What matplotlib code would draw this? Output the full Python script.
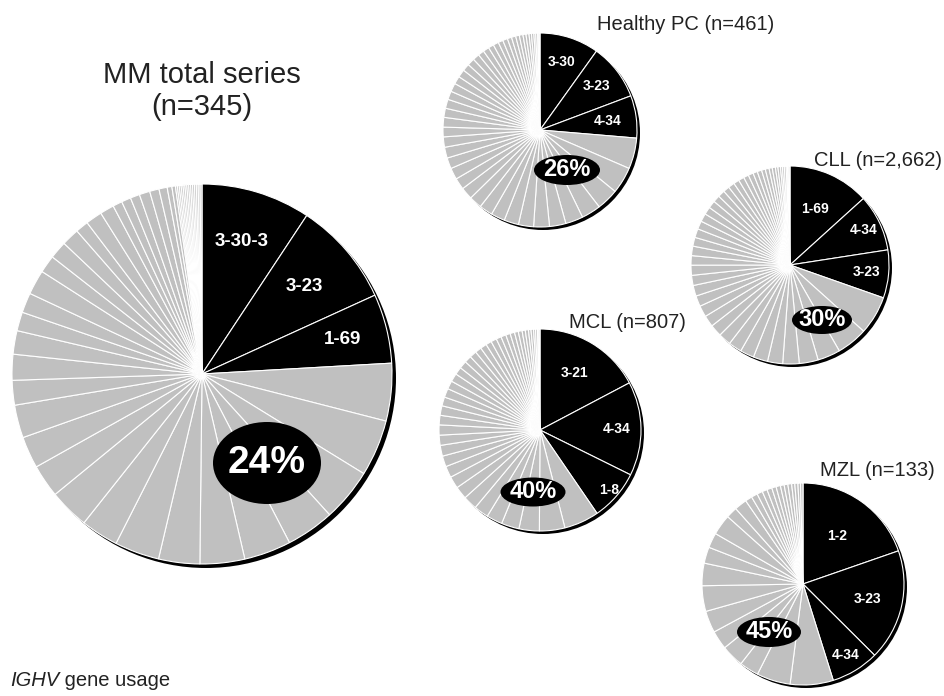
import matplotlib
matplotlib.use("Agg")
from matplotlib import pyplot as plt
from matplotlib.patches import Ellipse, Circle
import numpy as np

W, H = 944, 696

# top 3 IGHV genes (black) + all other genes (grey), % of cases
mmGenes = ["3-30-3", "3-23", "1-69"]
mmTop = [9.3, 8.9, 5.9]
mmRest = [4.9, 4.8, 4.5, 4.1, 4.0, 3.8, 3.5, 3.8, 3.2, 3.4, 2.8, 2.7, 2.8, 2.1, 2.2,
          2.0, 1.6, 1.7, 2.1, 1.5, 1.5, 1.5, 1.1, 1.4, 1.2, 0.8, 0.8, 0.8, 0.9, 0.8,
          0.7, 0.4, 0.3, 0.16, 0.16, 0.16, 0.16, 0.16, 0.16, 0.16, 0.16, 0.16, 0.16,
          0.16, 0.16, 0.16, 0.16]

hpcGenes = ["3-30", "3-23", "4-34"]
hpcTop = [9.8, 9.3, 7.0]
hpcRest = [5.1, 4.4, 3.6, 3.2, 2.9, 2.7, 2.6, 2.5, 2.4, 2.3, 2.2, 2.1, 2.0, 1.9, 1.9,
           1.8, 1.8, 1.7, 1.6, 1.6, 1.5, 1.5, 1.4, 1.4, 1.3, 1.3, 1.2, 1.2, 1.1, 1.0,
           1.0, 0.9, 0.9, 0.8, 0.8, 0.7, 0.7, 0.6, 0.6, 0.5, 0.5, 0.4, 0.4, 0.3, 0.3,
           0.2, 0.2]

cllGenes = ["1-69", "4-34", "3-23"]
cllTop = [12.9, 9.0, 7.6]
cllRest = [6.1, 4.9, 3.6, 3.0, 2.6, 2.4, 2.3, 2.2, 2.1, 2.0, 1.9, 1.8, 1.8, 1.7, 1.7,
           1.6, 1.6, 1.5, 1.5, 1.4, 1.4, 1.3, 1.3, 1.2, 1.2, 1.1, 1.1, 1.0, 1.0, 0.9,
           0.9, 0.8, 0.8, 0.7, 0.7, 0.6, 0.6, 0.5, 0.5, 0.4, 0.4, 0.3, 0.3, 0.3, 0.2,
           0.2, 0.2]

mclGenes = ["3-21", "4-34", "1-8"]
mclTop = [17.0, 14.8, 8.0]
mclRest = [5.5, 4.0, 3.2, 2.8, 2.5, 2.3, 2.2, 2.0, 1.9, 1.8, 1.7, 1.7, 1.6, 1.6, 1.5,
           1.5, 1.4, 1.4, 1.3, 1.3, 1.2, 1.2, 1.1, 1.1, 1.0, 1.0, 0.9, 0.9, 0.8, 0.8,
           0.7, 0.7, 0.6, 0.6, 0.5, 0.5, 0.4, 0.4, 0.3, 0.3, 0.2, 0.2]

mzlGenes = ["1-2", "3-23", "4-34"]
mzlTop = [19.7, 17.8, 7.7]
mzlRest = [6.9, 5.4, 3.1, 3.6, 3.0, 3.5, 4.1, 3.6, 2.6, 2.4, 3.3, 1.8, 2.0, 1.1, 1.0,
           0.9, 0.8, 0.8, 0.7, 0.7, 0.6, 0.6, 0.6, 0.5, 0.5, 0.4, 0.4]

titles = ["MM total series\n(n=345)", "Healthy PC (n=461)", "CLL (n=2,662)",
          "MCL (n=807)", "MZL (n=133)"]
pctLabels = ["24%", "26%", "30%", "40%", "45%"]

FONT = ["Liberation Sans", "DejaVu Sans"]
GREY = "#c0c0c0"
TXT = "#222222"


def drawPie(ax, top, rest, genes, cx, cy, r, labDist, labSize, ellXY, ellWH, pctText, pctSize, shadow):
    # cy / ellXY given from the top of the picture
    y0 = H - cy
    ax.add_patch(Circle((cx + shadow, y0 - shadow), r, facecolor="black", edgecolor="none", zorder=0.5))
    wedges, _ = ax.pie(top + rest, colors=["black"] * len(top) + [GREY] * len(rest),
                       startangle=90, counterclock=False, center=(cx, y0), radius=r,
                       wedgeprops=dict(edgecolor="white", linewidth=0.8), frame=False)
    for w, g, d in zip(wedges[:len(top)], genes, labDist):
        ang = np.deg2rad((w.theta1 + w.theta2) / 2)
        ax.text(cx + d * r * np.cos(ang), y0 + d * r * np.sin(ang), g, color="white",
                ha="center", va="center", fontsize=labSize, fontweight="bold", family=FONT, zorder=4)
    ax.add_patch(Ellipse((ellXY[0], H - ellXY[1]), ellWH[0], ellWH[1], facecolor="black", zorder=3))
    ax.text(ellXY[0], H - ellXY[1], pctText, color="white", ha="center", va="center",
            fontsize=pctSize, fontweight="bold", family=FONT, zorder=4)


fig = plt.figure(figsize=(W / 100, H / 100), dpi=100)
ax = fig.add_axes([0, 0, 1, 1])

drawPie(ax, mmTop, mmRest, mmGenes, 202, 374, 190, [0.73, 0.71, 0.76], 13.5, (267, 463), (108, 82), pctLabels[0], 28, 4)
drawPie(ax, hpcTop, hpcRest, hpcGenes, 540, 130, 97, [0.74, 0.74, 0.70], 10, (567, 170), (66, 30), pctLabels[1], 17, 3)
drawPie(ax, cllTop, cllRest, cllGenes, 790, 265, 99, [0.62, 0.82, 0.78], 10, (822, 320), (60, 28), pctLabels[2], 17, 3)
drawPie(ax, mclTop, mclRest, mclGenes, 540, 430, 101, [0.66, 0.76, 0.90], 10, (533, 492), (65, 29), pctLabels[3], 17, 3)
drawPie(ax, mzlTop, mzlRest, mzlGenes, 803, 584, 101, [0.58, 0.66, 0.82], 10, (769, 632), (64, 30), pctLabels[4], 17, 3)

# titles
ax.text(202, H - 91, titles[0], ha="center", va="center", fontsize=21, family=FONT, linespacing=1.15, color=TXT)
ax.text(686, H - 24, titles[1], ha="center", va="center", fontsize=14.5, family=FONT, color=TXT)
ax.text(942, H - 161, titles[2], ha="right", va="center", fontsize=14.5, family=FONT, color=TXT)
ax.text(627, H - 322, titles[3], ha="center", va="center", fontsize=14.5, family=FONT, color=TXT)
ax.text(877, H - 470, titles[4], ha="center", va="center", fontsize=14.5, family=FONT, color=TXT)

lab = ax.text(10, H - 681, "IGHV", ha="left", va="center", fontsize=14.5, family=FONT, style="italic", color=TXT)
ax.annotate(" gene usage", xy=(1, 0.5), xycoords=lab, ha="left", va="center", fontsize=14.5, family=FONT, color=TXT)

ax.set_xlim(0, W)
ax.set_ylim(0, H)
ax.set_aspect("equal")
ax.axis("off")
fig.savefig("out.png", dpi=100)
